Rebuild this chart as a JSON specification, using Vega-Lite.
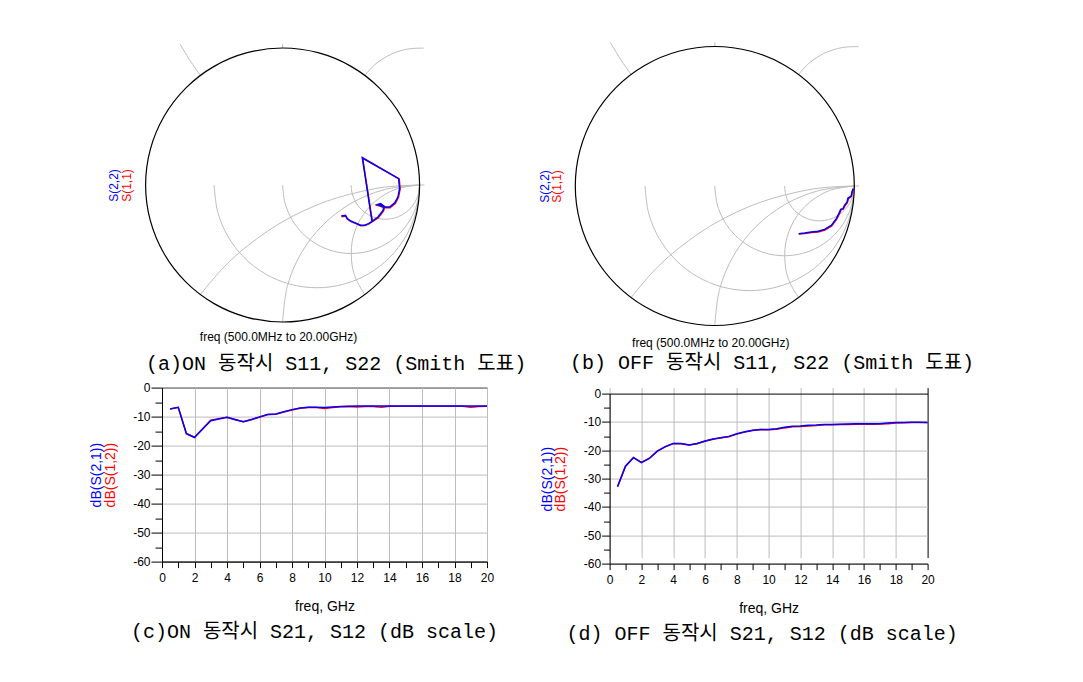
{
  "$schema": "https://vega.github.io/schema/vega-lite/v6.json",
  "background": "white",
  "padding": {"left": 88, "top": 40, "right": 5, "bottom": 5},
  "config": {
    "font": "Liberation Sans",
    "view": {"stroke": null},
    "axis": {"labelFont": "Liberation Sans", "titleFont": "Liberation Sans", "titleFontWeight": "normal", "labelColor": "black", "titleColor": "black", "domainColor": "black", "tickColor": "black", "gridColor": "#bdbdbd", "labelFontSize": 12}
  },
  "datasets": {
    "outer": [
      {"i": 0, "re": 1, "im": 0}, {"i": 1, "re": 0.9659, "im": 0.2588}, {"i": 2, "re": 0.866, "im": 0.5}, {"i": 3, "re": 0.7071, "im": 0.7071},
      {"i": 4, "re": 0.5, "im": 0.866}, {"i": 5, "re": 0.2588, "im": 0.9659}, {"i": 6, "re": 0, "im": 1}, {"i": 7, "re": -0.2588, "im": 0.9659},
      {"i": 8, "re": -0.5, "im": 0.866}, {"i": 9, "re": -0.7071, "im": 0.7071}, {"i": 10, "re": -0.866, "im": 0.5}, {"i": 11, "re": -0.9659, "im": 0.2588},
      {"i": 12, "re": -1, "im": 0}, {"i": 13, "re": -0.9659, "im": -0.2588}, {"i": 14, "re": -0.866, "im": -0.5}, {"i": 15, "re": -0.7071, "im": -0.7071},
      {"i": 16, "re": -0.5, "im": -0.866}, {"i": 17, "re": -0.2588, "im": -0.9659}, {"i": 18, "re": 0, "im": -1}, {"i": 19, "re": 0.2588, "im": -0.9659},
      {"i": 20, "re": 0.5, "im": -0.866}, {"i": 21, "re": 0.7071, "im": -0.7071}, {"i": 22, "re": 0.866, "im": -0.5}, {"i": 23, "re": 0.9659, "im": -0.2588}
    ],
    "grid": [
      {"g": "r1", "i": 0, "re": -0.5, "im": 0}, {"g": "r1", "i": 1, "re": -0.4744, "im": -0.1941}, {"g": "r1", "i": 2, "re": -0.3995, "im": -0.375},
      {"g": "r1", "i": 3, "re": -0.2803, "im": -0.5303}, {"g": "r1", "i": 4, "re": -0.125, "im": -0.6495}, {"g": "r1", "i": 5, "re": 0.0559, "im": -0.7244},
      {"g": "r1", "i": 6, "re": 0.25, "im": -0.75}, {"g": "r1", "i": 7, "re": 0.4441, "im": -0.7244}, {"g": "r1", "i": 8, "re": 0.625, "im": -0.6495},
      {"g": "r1", "i": 9, "re": 0.7803, "im": -0.5303}, {"g": "r1", "i": 10, "re": 0.8995, "im": -0.375}, {"g": "r1", "i": 11, "re": 0.9744, "im": -0.1941},
      {"g": "r1", "i": 12, "re": 1, "im": 0},
      {"g": "r2", "i": 0, "re": 0, "im": 0}, {"g": "r2", "i": 1, "re": 0.017, "im": -0.1294}, {"g": "r2", "i": 2, "re": 0.067, "im": -0.25},
      {"g": "r2", "i": 3, "re": 0.1464, "im": -0.3536}, {"g": "r2", "i": 4, "re": 0.25, "im": -0.433}, {"g": "r2", "i": 5, "re": 0.3706, "im": -0.483},
      {"g": "r2", "i": 6, "re": 0.5, "im": -0.5}, {"g": "r2", "i": 7, "re": 0.6294, "im": -0.483}, {"g": "r2", "i": 8, "re": 0.75, "im": -0.433},
      {"g": "r2", "i": 9, "re": 0.8536, "im": -0.3536}, {"g": "r2", "i": 10, "re": 0.933, "im": -0.25}, {"g": "r2", "i": 11, "re": 0.983, "im": -0.1294},
      {"g": "r2", "i": 12, "re": 1, "im": 0},
      {"g": "r3", "i": 0, "re": 0.5, "im": 0}, {"g": "r3", "i": 1, "re": 0.5085, "im": -0.0647}, {"g": "r3", "i": 2, "re": 0.5335, "im": -0.125},
      {"g": "r3", "i": 3, "re": 0.5732, "im": -0.1768}, {"g": "r3", "i": 4, "re": 0.625, "im": -0.2165}, {"g": "r3", "i": 5, "re": 0.6853, "im": -0.2415},
      {"g": "r3", "i": 6, "re": 0.75, "im": -0.25}, {"g": "r3", "i": 7, "re": 0.8147, "im": -0.2415}, {"g": "r3", "i": 8, "re": 0.875, "im": -0.2165},
      {"g": "r3", "i": 9, "re": 0.9268, "im": -0.1768}, {"g": "r3", "i": 10, "re": 0.9665, "im": -0.125}, {"g": "r3", "i": 11, "re": 0.9915, "im": -0.0647},
      {"g": "r3", "i": 12, "re": 1, "im": 0},
      {"g": "x1", "i": 0, "re": 1, "im": 0}, {"g": "x1", "i": 1, "re": 0.8257, "im": -0.0077}, {"g": "x1", "i": 2, "re": 0.6527, "im": -0.0304},
      {"g": "x1", "i": 3, "re": 0.316, "im": -0.1206}, {"g": "x1", "i": 4, "re": 0, "im": -0.2679}, {"g": "x1", "i": 5, "re": -0.2856, "im": -0.4679},
      {"g": "x1", "i": 6, "re": -0.4508, "im": -0.6232}, {"g": "x1", "i": 7, "re": -0.6, "im": -0.8},
      {"g": "x2", "i": 0, "re": 1, "im": 0}, {"g": "x2", "i": 1, "re": 0.7412, "im": -0.0341}, {"g": "x2", "i": 2, "re": 0.5, "im": -0.134},
      {"g": "x2", "i": 3, "re": 0.2929, "im": -0.2929}, {"g": "x2", "i": 4, "re": 0.134, "im": -0.5}, {"g": "x2", "i": 5, "re": 0.0341, "im": -0.7412},
      {"g": "x2", "i": 6, "re": 0, "im": -1},
      {"g": "x3", "i": 0, "re": 1, "im": 0}, {"g": "x3", "i": 1, "re": 0.829, "im": -0.0302}, {"g": "x3", "i": 2, "re": 0.6786, "im": -0.117},
      {"g": "x3", "i": 3, "re": 0.567, "im": -0.25}, {"g": "x3", "i": 4, "re": 0.5076, "im": -0.4132}, {"g": "x3", "i": 5, "re": 0.5076, "im": -0.5868},
      {"g": "x3", "i": 6, "re": 0.5397, "im": -0.6954}, {"g": "x3", "i": 7, "re": 0.6, "im": -0.8},
      {"g": "u1", "i": 0, "re": -0.6, "im": 0.8}, {"g": "u1", "i": 1, "re": -0.6773, "im": 0.9108}, {"g": "u1", "i": 2, "re": -0.7492, "im": 1.03},
      {"g": "u2", "i": 0, "re": 0, "im": 1}, {"g": "u2", "i": 1, "re": 0.0005, "im": 1.03},
      {"g": "u3", "i": 0, "re": 0.6, "im": 0.8}, {"g": "u3", "i": 1, "re": 0.6786, "im": 0.883}, {"g": "u3", "i": 2, "re": 0.7887, "im": 0.9532},
      {"g": "u3", "i": 3, "re": 0.9132, "im": 0.9924}, {"g": "u3", "i": 4, "re": 1.03, "im": 0.9991},
      {"g": "ext", "i": 0, "re": 1, "im": 0}, {"g": "ext", "i": 1, "re": 1.035, "im": 0}
    ],
    "smithA": [
      {"n": 1, "re22": 0.428, "im22": -0.226, "re11": 0.431, "im11": -0.231},
      {"n": 2, "re22": 0.458, "im22": -0.221, "re11": 0.461, "im11": -0.226},
      {"n": 3, "re22": 0.472, "im22": -0.246, "re11": 0.475, "im11": -0.25},
      {"n": 4, "re22": 0.501, "im22": -0.265, "re11": 0.503, "im11": -0.269},
      {"n": 5, "re22": 0.531, "im22": -0.277, "re11": 0.533, "im11": -0.28},
      {"n": 6, "re22": 0.569, "im22": -0.294, "re11": 0.57, "im11": -0.297},
      {"n": 7, "re22": 0.599, "im22": -0.294, "re11": 0.6, "im11": -0.296},
      {"n": 8, "re22": 0.628, "im22": -0.282, "re11": 0.63, "im11": -0.284},
      {"n": 9, "re22": 0.653, "im22": -0.265, "re11": 0.655, "im11": -0.267},
      {"n": 10, "re22": 0.696, "im22": -0.234, "re11": 0.699, "im11": -0.238},
      {"n": 11, "re22": 0.733, "im22": -0.185, "re11": 0.737, "im11": -0.189},
      {"n": 12, "re22": 0.74, "im22": -0.161, "re11": 0.743, "im11": -0.166},
      {"n": 13, "re22": 0.708, "im22": -0.148, "re11": 0.71, "im11": -0.153},
      {"n": 14, "re22": 0.691, "im22": -0.144, "re11": 0.693, "im11": -0.149},
      {"n": 15, "re22": 0.715, "im22": -0.136, "re11": 0.717, "im11": -0.14},
      {"n": 16, "re22": 0.75, "im22": -0.161, "re11": 0.752, "im11": -0.166},
      {"n": 17, "re22": 0.781, "im22": -0.161, "re11": 0.784, "im11": -0.166},
      {"n": 18, "re22": 0.818, "im22": -0.131, "re11": 0.822, "im11": -0.135},
      {"n": 19, "re22": 0.842, "im22": -0.088, "re11": 0.846, "im11": -0.09},
      {"n": 20, "re22": 0.854, "im22": -0.027, "re11": 0.858, "im11": -0.028},
      {"n": 21, "re22": 0.847, "im22": 0.046, "re11": 0.851, "im11": 0.045},
      {"n": 22, "re22": 0.582, "im22": 0.199, "re11": 0.584, "im11": 0.197},
      {"n": 23, "re22": 0.653, "im22": -0.265, "re11": 0.655, "im11": -0.267}
    ],
    "smithB": [
      {"n": 1, "re22": 0.993, "im22": -0.019, "re11": 0.995, "im11": -0.022},
      {"n": 2, "re22": 0.983, "im22": -0.043, "re11": 0.985, "im11": -0.046},
      {"n": 3, "re22": 0.978, "im22": -0.072, "re11": 0.979, "im11": -0.076},
      {"n": 4, "re22": 0.955, "im22": -0.086, "re11": 0.958, "im11": -0.09},
      {"n": 5, "re22": 0.948, "im22": -0.115, "re11": 0.951, "im11": -0.118},
      {"n": 6, "re22": 0.93, "im22": -0.139, "re11": 0.933, "im11": -0.142},
      {"n": 7, "re22": 0.919, "im22": -0.162, "re11": 0.921, "im11": -0.166},
      {"n": 8, "re22": 0.902, "im22": -0.167, "re11": 0.905, "im11": -0.171},
      {"n": 9, "re22": 0.895, "im22": -0.186, "re11": 0.898, "im11": -0.19},
      {"n": 10, "re22": 0.871, "im22": -0.234, "re11": 0.874, "im11": -0.238},
      {"n": 11, "re22": 0.835, "im22": -0.282, "re11": 0.838, "im11": -0.286},
      {"n": 12, "re22": 0.787, "im22": -0.311, "re11": 0.789, "im11": -0.315},
      {"n": 13, "re22": 0.74, "im22": -0.325, "re11": 0.742, "im11": -0.329},
      {"n": 14, "re22": 0.692, "im22": -0.33, "re11": 0.694, "im11": -0.334},
      {"n": 15, "re22": 0.644, "im22": -0.337, "re11": 0.646, "im11": -0.34},
      {"n": 16, "re22": 0.601, "im22": -0.342, "re11": 0.603, "im11": -0.344}
    ],
    "dbC": [
      {"f": 0.5, "s21": -7.4, "s12": -7.4}, {"f": 1, "s21": -6.8, "s12": -6.8}, {"f": 1.5, "s21": -15.9, "s12": -15.8},
      {"f": 2, "s21": -17.2, "s12": -17.1}, {"f": 2.5, "s21": -14.3, "s12": -14.2}, {"f": 3, "s21": -11.4, "s12": -11.2},
      {"f": 3.5, "s21": -10.8, "s12": -10.7}, {"f": 4, "s21": -10.2, "s12": -10.2}, {"f": 4.5, "s21": -11.0, "s12": -11.1},
      {"f": 5, "s21": -11.8, "s12": -11.8}, {"f": 5.5, "s21": -11.0, "s12": -11.1}, {"f": 6, "s21": -10.1, "s12": -10.2},
      {"f": 6.5, "s21": -9.3, "s12": -9.3}, {"f": 7, "s21": -9.1, "s12": -9.2}, {"f": 7.5, "s21": -8.3, "s12": -8.4},
      {"f": 8, "s21": -7.6, "s12": -7.7}, {"f": 8.5, "s21": -7.0, "s12": -7.1}, {"f": 9, "s21": -6.8, "s12": -6.9},
      {"f": 9.5, "s21": -6.8, "s12": -6.9}, {"f": 10, "s21": -6.9, "s12": -7.2}, {"f": 10.5, "s21": -6.7, "s12": -6.9},
      {"f": 11, "s21": -6.5, "s12": -6.6}, {"f": 11.5, "s21": -6.4, "s12": -6.5}, {"f": 12, "s21": -6.35, "s12": -6.7},
      {"f": 12.5, "s21": -6.35, "s12": -6.5}, {"f": 13, "s21": -6.35, "s12": -6.5}, {"f": 13.5, "s21": -6.35, "s12": -6.8},
      {"f": 14, "s21": -6.35, "s12": -6.4}, {"f": 14.5, "s21": -6.35, "s12": -6.4}, {"f": 15, "s21": -6.35, "s12": -6.4},
      {"f": 15.5, "s21": -6.35, "s12": -6.4}, {"f": 16, "s21": -6.35, "s12": -6.4}, {"f": 16.5, "s21": -6.35, "s12": -6.4},
      {"f": 17, "s21": -6.35, "s12": -6.4}, {"f": 17.5, "s21": -6.35, "s12": -6.4}, {"f": 18, "s21": -6.35, "s12": -6.4},
      {"f": 18.5, "s21": -6.35, "s12": -6.4}, {"f": 19, "s21": -6.35, "s12": -6.8}, {"f": 19.5, "s21": -6.35, "s12": -6.5},
      {"f": 20, "s21": -6.35, "s12": -6.4}
    ],
    "dbD": [
      {"f": 0.5, "s21": -32.9, "s12": -32.8}, {"f": 1, "s21": -25.6, "s12": -25.6}, {"f": 1.5, "s21": -22.6, "s12": -22.5},
      {"f": 2, "s21": -24.4, "s12": -24.3}, {"f": 2.5, "s21": -22.9, "s12": -22.8}, {"f": 3, "s21": -20.3, "s12": -20.3},
      {"f": 3.5, "s21": -18.7, "s12": -18.8}, {"f": 4, "s21": -17.6, "s12": -17.6}, {"f": 4.5, "s21": -17.6, "s12": -17.7},
      {"f": 5, "s21": -18.1, "s12": -18.1}, {"f": 5.5, "s21": -17.6, "s12": -17.7}, {"f": 6, "s21": -16.7, "s12": -16.8},
      {"f": 6.5, "s21": -16.0, "s12": -16.1}, {"f": 7, "s21": -15.6, "s12": -15.6}, {"f": 7.5, "s21": -15.1, "s12": -15.2},
      {"f": 8, "s21": -14.2, "s12": -14.3}, {"f": 8.5, "s21": -13.5, "s12": -13.6}, {"f": 9, "s21": -12.9, "s12": -13.0},
      {"f": 9.5, "s21": -12.7, "s12": -12.7}, {"f": 10, "s21": -12.7, "s12": -12.8}, {"f": 10.5, "s21": -12.4, "s12": -12.6},
      {"f": 11, "s21": -11.9, "s12": -12.1}, {"f": 11.5, "s21": -11.5, "s12": -11.7}, {"f": 12, "s21": -11.4, "s12": -11.6},
      {"f": 12.5, "s21": -11.2, "s12": -11.4}, {"f": 13, "s21": -11.1, "s12": -11.3}, {"f": 13.5, "s21": -10.9, "s12": -11.0},
      {"f": 14, "s21": -10.9, "s12": -11.0}, {"f": 14.5, "s21": -10.8, "s12": -10.9}, {"f": 15, "s21": -10.7, "s12": -10.9},
      {"f": 15.5, "s21": -10.6, "s12": -10.8}, {"f": 16, "s21": -10.6, "s12": -10.7}, {"f": 16.5, "s21": -10.6, "s12": -10.8},
      {"f": 17, "s21": -10.6, "s12": -10.7}, {"f": 17.5, "s21": -10.4, "s12": -10.6}, {"f": 18, "s21": -10.2, "s12": -10.4},
      {"f": 18.5, "s21": -10.2, "s12": -10.3}, {"f": 19, "s21": -10.1, "s12": -10.2}, {"f": 19.5, "s21": -10.1, "s12": -10.2},
      {"f": 20, "s21": -10.2, "s12": -10.2}
    ]
  },
  "columns": 2,
  "align": "none",
  "bounds": "flush",
  "spacing": {"row": 52.6, "column": 122.6},
  "concat": [
    {
      "width": 325, "height": 287,
      "title": {"text": "(a)ON 동작시 S11, S22 (Smith 도표)", "orient": "bottom", "frame": "group", "anchor": "middle", "dx": 11.6, "offset": 12, "font": "Liberation Mono, Noto Sans CJK KR", "fontSize": 20, "fontWeight": "normal", "color": "black"},
      "layer": [
        {"data": {"name": "grid"}, "mark": {"type": "line", "interpolate": "catmull-rom", "color": "#bdbdbd", "strokeWidth": 1},
         "encoding": {
           "x": {"field": "re", "type": "quantitative", "scale": {"domain": [-0.8803, 1.492], "nice": false, "zero": false}, "axis": null},
           "y": {"field": "im", "type": "quantitative", "scale": {"domain": [-1.05109, 1.0438], "nice": false, "zero": false}, "axis": null},
           "detail": {"field": "g"}, "order": {"field": "i", "type": "quantitative"}}},
        {"data": {"name": "outer"}, "mark": {"type": "line", "interpolate": "cardinal-closed", "color": "black", "strokeWidth": 1.2},
         "encoding": {
           "x": {"field": "re", "type": "quantitative", "scale": {"domain": [-0.8803, 1.492], "nice": false, "zero": false}, "axis": null},
           "y": {"field": "im", "type": "quantitative", "scale": {"domain": [-1.05109, 1.0438], "nice": false, "zero": false}, "axis": null},
           "order": {"field": "i", "type": "quantitative"}}},
        {"mark": {"type": "rule", "color": "black", "strokeWidth": 1},
         "encoding": {"x": {"datum": -1, "type": "quantitative", "axis": null}, "x2": {"datum": 1}, "y": {"datum": 0, "type": "quantitative", "axis": null}}},
        {"data": {"name": "smithA"}, "mark": {"type": "line", "color": "#ff0000", "strokeWidth": 1.5},
         "encoding": {
           "x": {"field": "re11", "type": "quantitative", "scale": {"domain": [-0.8803, 1.492], "nice": false, "zero": false}, "axis": null},
           "y": {"field": "im11", "type": "quantitative", "scale": {"domain": [-1.05109, 1.0438], "nice": false, "zero": false},
                 "axis": {"orient": "left", "title": "S(1,1)", "titleColor": "#ff0000", "titleFontSize": 12, "titlePadding": 29, "titleY": 143, "labels": false, "ticks": false, "domain": false, "grid": false}},
           "order": {"field": "n", "type": "quantitative"}}},
        {"data": {"name": "smithA"}, "mark": {"type": "line", "color": "#0000ff", "strokeWidth": 1.5},
         "encoding": {
           "x": {"field": "re22", "type": "quantitative", "scale": {"domain": [-0.8803, 1.492], "nice": false, "zero": false},
                 "axis": {"orient": "bottom", "title": "freq (500.0MHz to 20.00GHz)", "titleFontSize": 12, "titlePadding": 2, "titleX": 116, "labels": false, "ticks": false, "domain": false, "grid": false}},
           "y": {"field": "im22", "type": "quantitative", "scale": {"domain": [-1.05109, 1.0438], "nice": false, "zero": false},
                 "axis": {"orient": "left", "title": "S(2,2)", "titleColor": "#0000ff", "titleFontSize": 12, "titlePadding": 41.7, "titleY": 143, "labels": false, "ticks": false, "domain": false, "grid": false}},
           "order": {"field": "n", "type": "quantitative"}}}
      ],
      "resolve": {"axis": {"x": "independent", "y": "independent"}}
    },
    {
      "width": 325, "height": 293,
      "title": {"text": "(b) OFF 동작시 S11, S22 (Smith 도표)", "orient": "bottom", "frame": "group", "anchor": "middle", "dx": 0, "offset": 5, "font": "Liberation Mono, Noto Sans CJK KR", "fontSize": 20, "fontWeight": "normal", "color": "black"},
      "layer": [
        {"data": {"name": "grid"}, "mark": {"type": "line", "interpolate": "catmull-rom", "color": "#bdbdbd", "strokeWidth": 1},
         "encoding": {
           "x": {"field": "re", "type": "quantitative", "scale": {"domain": [-0.75412, 1.57563], "nice": false, "zero": false}, "axis": null},
           "y": {"field": "im", "type": "quantitative", "scale": {"domain": [-1.0681, 1.03226], "nice": false, "zero": false}, "axis": null},
           "detail": {"field": "g"}, "order": {"field": "i", "type": "quantitative"}}},
        {"data": {"name": "outer"}, "mark": {"type": "line", "interpolate": "cardinal-closed", "color": "black", "strokeWidth": 1.2},
         "encoding": {
           "x": {"field": "re", "type": "quantitative", "scale": {"domain": [-0.75412, 1.57563], "nice": false, "zero": false}, "axis": null},
           "y": {"field": "im", "type": "quantitative", "scale": {"domain": [-1.0681, 1.03226], "nice": false, "zero": false}, "axis": null},
           "order": {"field": "i", "type": "quantitative"}}},
        {"mark": {"type": "rule", "color": "black", "strokeWidth": 1},
         "encoding": {"x": {"datum": -1, "type": "quantitative", "axis": null}, "x2": {"datum": 1}, "y": {"datum": 0, "type": "quantitative", "axis": null}}},
        {"data": {"name": "smithB"}, "mark": {"type": "line", "color": "#ff0000", "strokeWidth": 1.5},
         "encoding": {
           "x": {"field": "re11", "type": "quantitative", "scale": {"domain": [-0.75412, 1.57563], "nice": false, "zero": false}, "axis": null},
           "y": {"field": "im11", "type": "quantitative", "scale": {"domain": [-1.0681, 1.03226], "nice": false, "zero": false},
                 "axis": {"orient": "left", "title": "S(1,1)", "titleColor": "#ff0000", "titleFontSize": 12, "titlePadding": 46, "titleY": 144, "labels": false, "ticks": false, "domain": false, "grid": false}},
           "order": {"field": "n", "type": "quantitative"}}},
        {"data": {"name": "smithB"}, "mark": {"type": "line", "color": "#0000ff", "strokeWidth": 1.5},
         "encoding": {
           "x": {"field": "re22", "type": "quantitative", "scale": {"domain": [-0.75412, 1.57563], "nice": false, "zero": false},
                 "axis": {"orient": "bottom", "title": "freq (500.0MHz to 20.00GHz)", "titleFontSize": 12, "titlePadding": 2, "titleX": 100.7, "labels": false, "ticks": false, "domain": false, "grid": false}},
           "y": {"field": "im22", "type": "quantitative", "scale": {"domain": [-1.0681, 1.03226], "nice": false, "zero": false},
                 "axis": {"orient": "left", "title": "S(2,2)", "titleColor": "#0000ff", "titleFontSize": 12, "titlePadding": 58.3, "titleY": 144, "labels": false, "ticks": false, "domain": false, "grid": false}},
           "order": {"field": "n", "type": "quantitative"}}}
      ],
      "resolve": {"axis": {"x": "independent", "y": "independent"}}
    },
    {
      "width": 325, "height": 174,
      "view": {"stroke": "black", "strokeWidth": 1},
      "title": {"text": "(c)ON 동작시 S21, S12 (dB scale)", "orient": "bottom", "frame": "group", "anchor": "middle", "dx": -10, "offset": 8, "font": "Liberation Mono, Noto Sans CJK KR", "fontSize": 20, "fontWeight": "normal", "color": "black"},
      "data": {"name": "dbC"},
      "layer": [
        {"mark": {"type": "line", "color": "#ff0000", "strokeWidth": 1.5},
         "encoding": {
           "x": {"field": "f", "type": "quantitative", "scale": {"domain": [0, 20], "nice": false},
                 "axis": {"orient": "bottom", "values": [0,1,2,3,4,5,6,7,8,9,10,11,12,13,14,15,16,17,18,19,20], "labelExpr": "datum.value % 2 ? '' : datum.label", "labelFlush": false, "labelOverlap": false, "grid": true, "gridOpacity": {"condition": {"test": "datum.value % 2 != 0", "value": 0}, "value": 1}, "tickSize": 6, "labelPadding": 5, "title": "freq, GHz", "titleFontSize": 14, "titlePadding": 16}},
           "y": {"field": "s12", "type": "quantitative", "scale": {"domain": [-60, 0], "nice": false},
                 "axis": {"orient": "left", "values": [-60,-55,-50,-45,-40,-35,-30,-25,-20,-15,-10,-5,0], "labelExpr": "datum.value % 10 ? '' : '' + datum.value", "labelFlush": false, "labelOverlap": false, "grid": true, "gridOpacity": {"condition": {"test": "datum.value % 10 != 0", "value": 0}, "value": 1}, "tickSize": {"condition": {"test": "datum.value % 10 != 0", "value": 7}, "value": 11}, "labelPadding": 1, "title": "dB(S(1,2))", "titleColor": "#ff0000", "titleFontSize": 14, "titlePadding": 15}}}},
        {"mark": {"type": "line", "color": "#0000ff", "strokeWidth": 1.5},
         "encoding": {
           "x": {"field": "f", "type": "quantitative", "scale": {"domain": [0, 20], "nice": false}, "axis": null},
           "y": {"field": "s21", "type": "quantitative", "scale": {"domain": [-60, 0], "nice": false},
                 "axis": {"orient": "left", "title": "dB(S(2,1))", "titleColor": "#0000ff", "titleFontSize": 14, "titlePadding": 58.7, "labels": false, "ticks": false, "domain": false, "grid": false}}}}
      ],
      "resolve": {"axis": {"x": "independent", "y": "independent"}}
    },
    {
      "width": 318, "height": 176,
      "title": {"text": "(d) OFF 동작시 S21, S12 (dB scale)", "orient": "bottom", "frame": "group", "anchor": "middle", "dx": -6.5, "offset": 8, "font": "Liberation Mono, Noto Sans CJK KR", "fontSize": 20, "fontWeight": "normal", "color": "black"},
      "data": {"name": "dbD"},
      "layer": [
        {"mark": {"type": "line", "color": "#ff0000", "strokeWidth": 1.5},
         "encoding": {
           "x": {"field": "f", "type": "quantitative", "scale": {"domain": [0, 20], "nice": false},
                 "axis": {"orient": "bottom", "values": [0,1,2,3,4,5,6,7,8,9,10,11,12,13,14,15,16,17,18,19,20], "labelExpr": "datum.value % 2 ? '' : datum.label", "labelFlush": false, "labelOverlap": false, "grid": true, "gridColor": {"condition": {"test": "datum.value == 20", "value": "black"}, "value": "#bdbdbd"}, "gridOpacity": {"condition": {"test": "datum.value % 2 != 0", "value": 0}, "value": 1}, "tickSize": 6, "labelPadding": 5, "title": "freq, GHz", "titleFontSize": 14, "titlePadding": 16}},
           "y": {"field": "s12", "type": "quantitative", "scale": {"domain": [-60, 0], "nice": false, "range": [176, 6]},
                 "axis": {"orient": "left", "values": [-60,-55,-50,-45,-40,-35,-30,-25,-20,-15,-10,-5,0], "labelExpr": "datum.value % 10 ? '' : '' + datum.value", "labelFlush": false, "labelOverlap": false, "grid": true, "gridColor": {"condition": {"test": "datum.value == 0", "value": "black"}, "value": "#bdbdbd"}, "gridOpacity": {"condition": {"test": "datum.value % 10 != 0", "value": 0}, "value": 1}, "tickSize": {"condition": {"test": "datum.value % 10 != 0", "value": 6}, "value": 8}, "labelPadding": 1, "title": "dB(S(1,2))", "titleColor": "#ff0000", "titleFontSize": 14, "titlePadding": 16}}}},
        {"mark": {"type": "line", "color": "#0000ff", "strokeWidth": 1.5},
         "encoding": {
           "x": {"field": "f", "type": "quantitative", "scale": {"domain": [0, 20], "nice": false}, "axis": null},
           "y": {"field": "s21", "type": "quantitative", "scale": {"domain": [-60, 0], "nice": false, "range": [176, 6]},
                 "axis": {"orient": "left", "title": "dB(S(2,1))", "titleColor": "#0000ff", "titleFontSize": 14, "titlePadding": 55, "labels": false, "ticks": false, "domain": false, "grid": false}}}}
      ],
      "resolve": {"axis": {"x": "independent", "y": "independent"}}
    }
  ]
}
